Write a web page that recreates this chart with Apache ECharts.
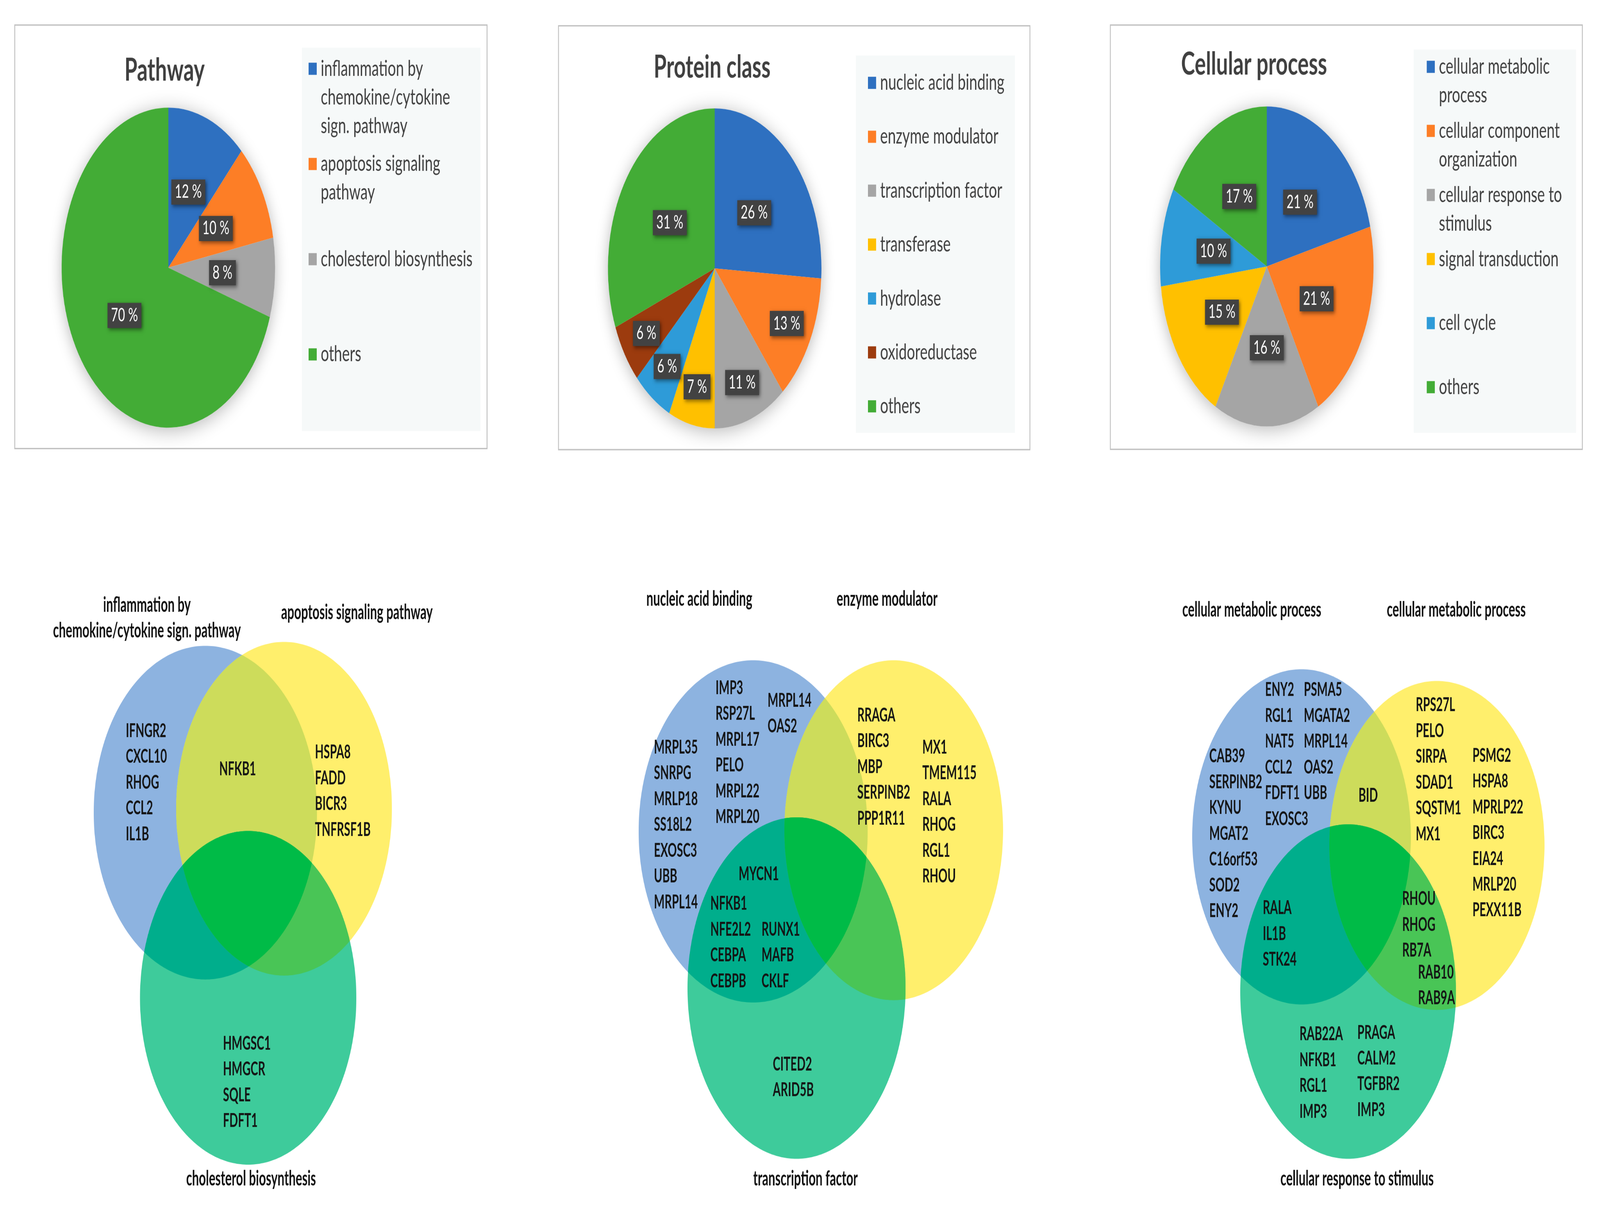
<!DOCTYPE html>
<html><head><meta charset="utf-8">
<script src="https://cdn.jsdelivr.net/npm/echarts@6/dist/echarts.min.js"></script>
<style>
html,body{margin:0;padding:0;background:#fff;overflow:hidden}
#wrap{width:100vw;height:100vh;overflow:hidden;background:#fff;position:relative}
#chart{position:absolute;left:0;top:0;width:5532px;height:2786px;transform-origin:0 0}
</style></head>
<body><div id="wrap"><div id="chart"></div></div>
<script>
// ---------------- DATA ----------------
const pathwayCategories = ['inflammation by chemokine/cytokine sign. pathway', 'apoptosis signaling pathway', 'cholesterol biosynthesis', 'others'];
const pathwayValues = [12, 10, 8, 70];
const pathwayLegendLines = [['inflammation by', 'chemokine/cytokine', 'sign. pathway'], ['apoptosis signaling', 'pathway'], ['cholesterol biosynthesis'], ['others']];

const proteinCategories = ['nucleic acid binding', 'enzyme modulator', 'transcription factor', 'transferase', 'hydrolase', 'oxidoreductase', 'others'];
const proteinValues = [26, 13, 11, 7, 6, 6, 31];
const proteinLegendLines = proteinCategories.map(c => [c]);

const cellularCategories = ['cellular metabolic process', 'cellular component organization', 'cellular response to stimulus', 'signal transduction', 'cell cycle', 'others'];
const cellularValues = [21, 21, 16, 15, 10, 17];
const cellularLegendLines = [['cellular metabolic', 'process'], ['cellular component', 'organization'], ['cellular response to', 'stimulus'], ['signal transduction'], ['cell cycle'], ['others']];

const pieTitles = ['Pathway', 'Protein class', 'Cellular process'];

// Venn 1 – pathway
const venn1Sets = [['inflammation by', 'chemokine/cytokine sign. pathway'], ['apoptosis signaling pathway'], ['cholesterol biosynthesis']];
const venn1BlueOnly = ['IFNGR2', 'CXCL10', 'RHOG', 'CCL2', 'IL1B'];
const venn1BlueYellow = ['NFKB1'];
const venn1YellowOnly = ['HSPA8', 'FADD', 'BICR3', 'TNFRSF1B'];
const venn1GreenOnly = ['HMGSC1', 'HMGCR', 'SQLE', 'FDFT1'];

// Venn 2 – protein class
const venn2Sets = [['nucleic acid binding'], ['enzyme modulator'], ['transcription factor']];
const venn2BlueOnlyA = ['MRPL35', 'SNRPG', 'MRLP18', 'SS18L2', 'EXOSC3', 'UBB', 'MRPL14'];
const venn2BlueOnlyB = ['IMP3', 'RSP27L', 'MRPL17', 'PELO', 'MRPL22', 'MRPL20'];
const venn2BlueOnlyC = ['MRPL14', 'OAS2'];
const venn2YellowOnlyA = ['RRAGA', 'BIRC3', 'MBP', 'SERPINB2', 'PPP1R11'];
const venn2YellowOnlyB = ['MX1', 'TMEM115', 'RALA', 'RHOG', 'RGL1', 'RHOU'];
const venn2BlueGreenA = ['MYCN1'];
const venn2BlueGreenB = ['NFKB1', 'NFE2L2', 'CEBPA', 'CEBPB'];
const venn2BlueGreenC = ['RUNX1', 'MAFB', 'CKLF'];
const venn2GreenOnly = ['CITED2', 'ARID5B'];

// Venn 3 – cellular process
const venn3Sets = [['cellular metabolic process'], ['cellular metabolic process'], ['cellular response to stimulus']];
const venn3BlueOnlyA = ['CAB39', 'SERPINB2', 'KYNU', 'MGAT2', 'C16orf53', 'SOD2', 'ENY2'];
const venn3BlueOnlyB = ['ENY2', 'RGL1', 'NAT5', 'CCL2', 'FDFT1', 'EXOSC3'];
const venn3BlueOnlyC = ['PSMA5', 'MGATA2', 'MRPL14', 'OAS2', 'UBB'];
const venn3BlueYellow = ['BID'];
const venn3YellowOnlyA = ['RPS27L', 'PELO', 'SIRPA', 'SDAD1', 'SQSTM1', 'MX1'];
const venn3YellowOnlyB = ['PSMG2', 'HSPA8', 'MPRLP22', 'BIRC3', 'EIA24', 'MRLP20', 'PEXX11B'];
const venn3BlueGreen = ['RALA', 'IL1B', 'STK24'];
const venn3YellowGreenA = ['RHOU', 'RHOG', 'RB7A'];
const venn3YellowGreenB = ['RAB10', 'RAB9A'];
const venn3GreenOnlyA = ['RAB22A', 'NFKB1', 'RGL1', 'IMP3'];
const venn3GreenOnlyB = ['PRAGA', 'CALM2', 'TGFBR2', 'IMP3'];

// ---------------- LAYOUT / STYLE ----------------
const W = 5532, H = 2786;
const S = 3092 / H;        // vertical stretch of the whole figure
const Y = v => v / S;      // reference pixel y -> chart pixel y

// fit the figure to the real window
(function () {
  const vw = window.innerWidth || W, vh = window.innerHeight || 3092;
  document.getElementById('chart').style.transform = 'scale(' + (vw / W) + ',' + (vh / 3092 * S) + ')';
})();

const C = {blue: '#2E70C0', orange: '#FD7E26', gray: '#A5A5A5', yellow: '#FFC000', lblue: '#2E9BD8', brown: '#9C3B0E', green: '#43AC36'};
const FONT = 'Lato, "Open Sans", sans-serif';
const TALL = 1.12;  // the source lettering is taller than Lato

const pies = [
  {names: pathwayCategories, values: pathwayValues, lines: pathwayLegendLines, colors: [C.blue, C.orange, C.gray, C.green],
   outer: [], center: [582, 685], box: [51, 64, 1684, 1148], legBox: [1044, 122, 1661, 1103], legLeft: 1067, legFirst: 176, legPitch: 243.7, title: [569, 181]},
  {names: proteinCategories, values: proteinValues, lines: proteinLegendLines, colors: [C.blue, C.orange, C.gray, C.yellow, C.lblue, C.brown, C.green],
   outer: [1, 2, 3, 4, 5], center: [2471, 687], box: [1931, 66, 3561, 1151], legBox: [2959, 142, 3509, 1108], legLeft: 3001, legFirst: 212, legPitch: 138, title: [2462, 173]},
  {names: cellularCategories, values: cellularValues, lines: cellularLegendLines, colors: [C.blue, C.orange, C.gray, C.yellow, C.lblue, C.green],
   outer: [], center: [4380, 682], box: [3839, 64, 5471, 1150], legBox: [4888, 127, 5449, 1108], legLeft: 4933, legFirst: 171, legPitch: 164, title: [4336, 165]}
];
const PIE_R = 369;

const vennLayout = [
  {B: [710, 2080, 386, 427], Y: [982, 2070, 373, 427], G: [858, 2554, 374, 427]},
  {B: [2604, 2128, 396, 438], Y: [3090, 2125, 378, 435], G: [2754, 2529, 377, 437]},
  {B: [4500, 2142, 378, 429], Y: [4968, 2164, 372, 421], G: [4661, 2538, 373, 428]}
];
const vennRegions = [['B'], ['Y'], ['G'], ['B', 'Y'], ['B', 'G'], ['Y', 'G'], ['B', 'Y', 'G']];
const vennRegionColors = {B: '#8DB3E0', Y: '#FFEF6C', G: '#3ECB9B', BY: '#CDDC5B', BG: '#00AE8C', YG: '#49C556', BYG: '#00BB47'};

const vennHeaders = [
  {sets: venn1Sets, pos: [[508, 1582], [1234, 1568], [868, 3018]]},
  {sets: venn2Sets, pos: [[2418, 1534], [3067, 1534], [2785, 3018]]},
  {sets: venn3Sets, pos: [[4328, 1561], [5035, 1561], [4692, 3018]]}
];
const geneBlocks = [
  [venn1BlueOnly, 435, 1871], [venn1BlueYellow, 758, 1969], [venn1YellowOnly, 1089, 1926], [venn1GreenOnly, 771, 2671],
  [venn2BlueOnlyA, 2261, 1913], [venn2BlueOnlyB, 2474, 1761], [venn2BlueOnlyC, 2654, 1793], [venn2YellowOnlyA, 2964, 1831],
  [venn2YellowOnlyB, 3189, 1913], [venn2BlueGreenA, 2554, 2237], [venn2BlueGreenB, 2456, 2313], [venn2BlueGreenC, 2633, 2379],
  [venn2GreenOnly, 2672, 2724],
  [venn3BlueOnlyA, 4181, 1936], [venn3BlueOnlyB, 4374, 1766], [venn3BlueOnlyC, 4508, 1766], [venn3BlueYellow, 4697, 2036],
  [venn3YellowOnlyA, 4895, 1805], [venn3YellowOnlyB, 5091, 1934], [venn3BlueGreen, 4366, 2324], [venn3YellowGreenA, 4848, 2301],
  [venn3YellowGreenB, 4903, 2489], [venn3GreenOnlyA, 4493, 2647], [venn3GreenOnlyB, 4693, 2643]
];
const GENE_LH = Y(66);

// ---------------- GEOMETRY HELPERS (Venn regions) ----------------
function ellipsePoly(e, n) {
  const pts = [];
  for (let i = 0; i < n; i++) {
    const t = 2 * Math.PI * i / n;
    pts.push([e[0] + e[2] * Math.cos(t), Y(e[1]) + Y(e[3]) * Math.sin(t)]);
  }
  return pts;
}
function cross(a, b, p) { return (b[0] - a[0]) * (p[1] - a[1]) - (b[1] - a[1]) * (p[0] - a[0]); }
function inter(a, b, p, q) {
  const d1 = cross(a, b, p), d2 = cross(a, b, q);
  const t = d1 / (d1 - d2);
  return [p[0] + (q[0] - p[0]) * t, p[1] + (q[1] - p[1]) * t];
}
function clipPoly(subject, clip) {
  let out = subject;
  for (let i = 0; i < clip.length && out.length; i++) {
    const a = clip[i], b = clip[(i + 1) % clip.length];
    const input = out; out = [];
    for (let j = 0; j < input.length; j++) {
      const e = input[j], s = input[(j + input.length - 1) % input.length];
      const ein = cross(a, b, e) >= 0, sin = cross(a, b, s) >= 0;
      if (ein) { if (!sin) out.push(inter(a, b, s, e)); out.push(e); }
      else if (sin) out.push(inter(a, b, s, e));
    }
  }
  return out;
}
const vennPolys = vennLayout.map(v => {
  const P = {B: ellipsePoly(v.B, 360), Y: ellipsePoly(v.Y, 360), G: ellipsePoly(v.G, 360)};
  return vennRegions.map(r => r.slice(1).reduce((acc, k) => clipPoly(acc, P[k]), P[r[0]]));
});
const vennData = [];
vennLayout.forEach((v, vi) => vennRegions.forEach((r, ri) => vennData.push([vi, ri])));

// ---------------- BUILD ----------------
const graphics = [];
const series = [];
const legends = [];

pies.forEach((p, k) => {
  const [x0, y0, x1, y1] = p.box;
  graphics.push({type: 'rect', z: 0, shape: {x: x0, y: Y(y0), width: x1 - x0, height: Y(y1) - Y(y0)},
    style: {fill: '#ffffff', stroke: '#bfbfbf', lineWidth: 3}});
  const [lx0, ly0, lx1, ly1] = p.legBox;
  graphics.push({type: 'rect', z: 1, shape: {x: lx0, y: Y(ly0), width: lx1 - lx0, height: Y(ly1) - Y(ly0)},
    style: {fill: '#f6f9f9'}});
  graphics.push({type: 'text', z: 10, x: p.title[0], y: Y(p.title[1]),
    style: {text: pieTitles[k], font: 'bold 72px ' + FONT, fill: '#404040', align: 'center', verticalAlign: 'middle', textAlign: 'center', textVerticalAlign: 'middle'}});

  const total = p.values.reduce((a, b) => a + b, 0);
  const center = [p.center[0], Y(p.center[1])];
  const labelStyle = {show: true, position: 'inside', formatter: '{c} %', color: '#ffffff', fontFamily: FONT, fontSize: 42,
    backgroundColor: '#424242', padding: [9, 12, 7, 12], shadowBlur: 10, shadowColor: 'rgba(0,0,0,0.5)', shadowOffsetX: 4, shadowOffsetY: 4};
  series.push({type: 'pie', silent: true, z: 1, center: center, radius: PIE_R, startAngle: 90,
    label: {show: false}, labelLine: {show: false}, animation: false,
    data: [{value: total, name: '', itemStyle: {color: '#ffffff', shadowBlur: 45, shadowColor: 'rgba(0,0,0,0.28)', shadowOffsetY: 6}}]});
  series.push({type: 'pie', z: 2, center: center, radius: PIE_R, startAngle: 90, clockwise: true,
    animation: false, emphasis: {disabled: true}, avoidLabelOverlap: false, labelLayout: {hideOverlap: false},
    data: p.names.map((n, i) => ({name: n, value: p.values[i], itemStyle: {color: p.colors[i]},
      label: {show: p.outer.indexOf(i) < 0}})),
    labelLine: {show: false}, label: labelStyle});
  if (p.outer.length) {
    // small slices: label sits further out (as in the source figure)
    series.push({type: 'pie', z: 3, silent: true, center: center, radius: [PIE_R * 0.5, PIE_R], startAngle: 90, clockwise: true,
      animation: false, emphasis: {disabled: true}, avoidLabelOverlap: false, labelLayout: {hideOverlap: false},
      itemStyle: {color: 'rgba(0,0,0,0)'},
      data: p.names.map((n, i) => ({name: n + ' ', value: p.values[i], label: {show: p.outer.indexOf(i) >= 0}})),
      labelLine: {show: false}, label: labelStyle});
  }

  const N = Math.max(...p.lines.map(l => l.length));
  const lh = 66;
  const block = (2 * N - 1) * lh;
  const map = {};
  p.names.forEach((n, i) => {
    const L = p.lines[i];
    map[n] = '\n'.repeat(N - 1) + L.join('\n') + '\n'.repeat(N - L.length);
  });
  legends.push({data: p.names, orient: 'vertical', left: p.legLeft, top: Y(p.legFirst) - block / 2,
    itemGap: Y(p.legPitch) - block, itemWidth: 28, itemHeight: 28, icon: 'rect', padding: 0, selectedMode: false,
    formatter: n => map[n],
    textStyle: {fontFamily: FONT, fontSize: 50, color: '#404040', lineHeight: lh, padding: [0, 0, 0, 9]}});
});

// Venn regions (custom series on a pixel-aligned cartesian grid)
series.push({type: 'custom', silent: true, z: 3, animation: false, coordinateSystem: 'cartesian2d',
  data: vennData,
  renderItem: function (params, api) {
    const vi = api.value(0), ri = api.value(1);
    const poly = vennPolys[vi][ri];
    if (!poly || poly.length < 3) return null;
    return {type: 'polygon', shape: {points: poly.map(pt => api.coord(pt))},
      style: {fill: vennRegionColors[vennRegions[ri].join('')], stroke: null}};
  }});

vennHeaders.forEach(vh => {
  vh.sets.forEach((lines, i) => {
    graphics.push({type: 'text', z: 10, x: vh.pos[i][0], y: Y(vh.pos[i][1]), scaleY: TALL,
      style: {text: lines.join('\n'), font: 'bold 42px ' + FONT, fill: '#111111', lineHeight: Y(65) / TALL,
        align: 'center', verticalAlign: 'middle', textAlign: 'center', textVerticalAlign: 'middle'}});
  });
});
geneBlocks.forEach(([genes, x, yFirst]) => {
  graphics.push({type: 'text', z: 10, x: x, y: Y(yFirst) - GENE_LH / 2, scaleY: TALL,
    style: {text: genes.join('\n'), font: 'bold 39px ' + FONT, fill: '#141414', lineHeight: GENE_LH / TALL,
      align: 'left', verticalAlign: 'top', textAlign: 'left', textVerticalAlign: 'top'}});
});

const chart = echarts.init(document.getElementById('chart'), null, {renderer: 'canvas', width: W, height: H});
chart.setOption({
  animation: false,
  backgroundColor: '#ffffff',
  grid: {left: 0, right: 0, top: 0, bottom: 0, show: false},
  xAxis: {type: 'value', min: 0, max: W, show: false},
  yAxis: {type: 'value', min: 0, max: H, inverse: true, show: false},
  legend: legends,
  graphic: {elements: graphics},
  series: series
});
</script>
</body></html>
